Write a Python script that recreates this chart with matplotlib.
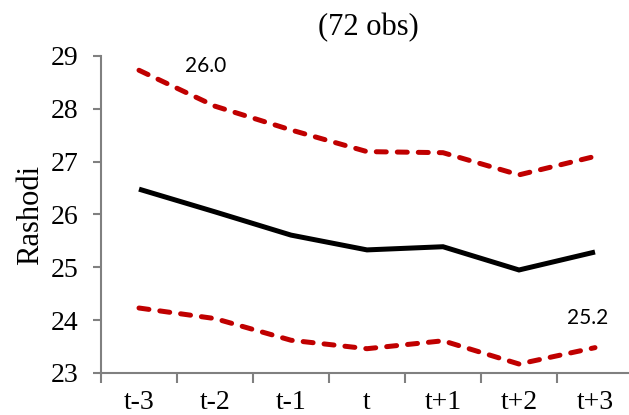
import matplotlib
matplotlib.use('Agg')
import matplotlib.pyplot as plt

periods = ['t-3', 't-2', 't-1', 't', 't+1', 't+2', 't+3']
mean_vals = [26.48, 26.05, 25.61, 25.33, 25.39, 24.95, 25.29]
upper_vals = [28.73, 28.05, 27.60, 27.19, 27.17, 26.75, 27.10]
lower_vals = [24.23, 24.03, 23.62, 23.46, 23.61, 23.17, 23.48]
y_ticks = [23, 24, 25, 26, 27, 28, 29]

red = '#C00000'
grey = '#808080'
serif = 'Liberation Serif'

fig = plt.figure(figsize=(6.29, 4.15), dpi=100)
ax = fig.add_axes([101 / 629, 1 - 373 / 415, 532 / 629, 317 / 415])

x = range(len(periods))
ax.plot(x, mean_vals, color='black', lw=3.6, solid_capstyle='butt', solid_joinstyle='miter')
for vals in (upper_vals, lower_vals):
    ax.plot(x, vals, color=red, lw=3.6, linestyle=(0, (2.0, 2.2)),
            dash_capstyle='round')

ax.set_xlim(-0.5, len(periods) - 0.5)
ax.set_ylim(23, 29)
ax.set_yticks(y_ticks)
ax.set_yticklabels([str(v) for v in y_ticks], fontfamily=serif, fontsize=20)
ax.set_xticks(list(x))
ax.set_xticklabels(periods, fontfamily=serif, fontsize=20)
ax.set_xticks([i - 0.5 for i in range(len(periods) + 1)], minor=True)
ax.tick_params(axis='x', which='major', length=0, pad=12)
ax.tick_params(axis='x', which='minor', length=7, width=1.5, color=grey, direction='out')
ax.tick_params(axis='y', length=6, width=1.5, color=grey, direction='out', pad=10)

for side in ('top', 'right'):
    ax.spines[side].set_visible(False)
for side in ('left', 'bottom'):
    ax.spines[side].set_color(grey)
    ax.spines[side].set_linewidth(1.5)

ax.set_ylabel('Rashodi', fontfamily=serif, fontsize=22, labelpad=4)

ax.text(0.88, 28.81, '26.0', fontfamily='Lato', fontsize=15, ha='center', va='center')
ax.text(5.9, 24.04, '25.2', fontfamily='Lato', fontsize=15, ha='center', va='center')

fig.text(368 / 629, 1 - 28 / 415, '(72 obs)', fontfamily=serif, fontsize=22,
         ha='center', va='center')

fig.savefig('out.png', dpi=100)
